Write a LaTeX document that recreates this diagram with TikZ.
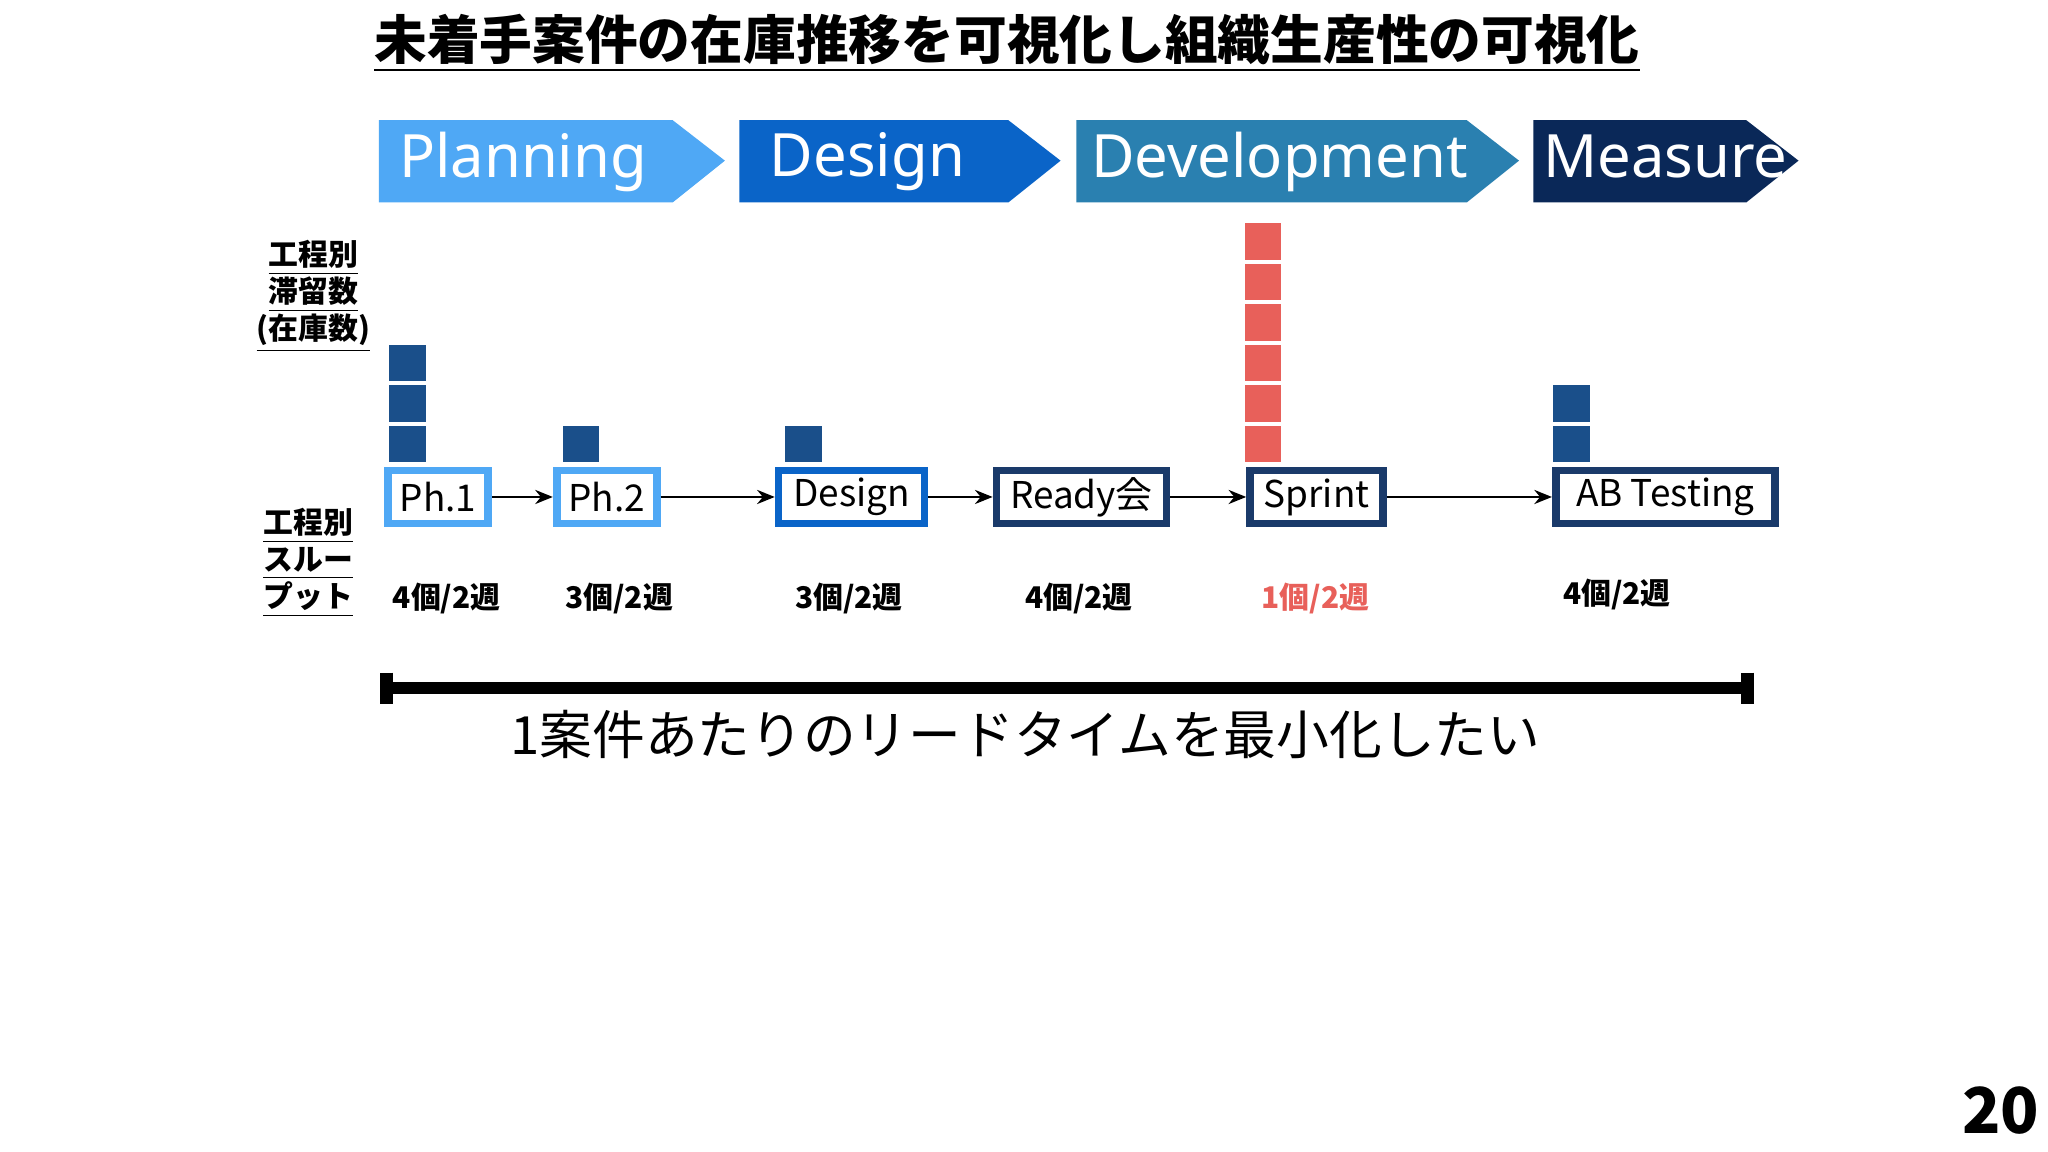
\documentclass[tikz,border=0pt]{standalone}
\usepackage{fontspec}
\setmainfont{Noto Sans CJK JP}
\newfontfamily\latinf{Noto Sans}
\usetikzlibrary{arrows.meta}
\definecolor{cA}{HTML}{4FA8F5}
\definecolor{cB}{HTML}{0A64C8}
\definecolor{cC}{HTML}{2A80B0}
\definecolor{cD}{HTML}{0A2858}
\definecolor{sq}{HTML}{1A4F8A}
\definecolor{rd}{HTML}{E8605A}
\definecolor{nv}{HTML}{1A3A6A}
\tikzset{
 pbox/.style={draw,line width=2.2pt,fill=white,inner sep=0pt,minimum height=0.53cm,font=\fontsize{10.5}{12}\selectfont,text=black},
 blk/.style={fill=#1,minimum size=0.365cm,inner sep=0pt},
 tp/.style={font=\fontsize{8.5}{10}\selectfont\bfseries},
 lab/.style={font=\fontsize{8.5}{10.5}\selectfont\bfseries,align=center},
 conn/.style={-{Stealth[length=5pt,width=4pt]},line width=0.8pt},
 chev/.style={font=\latinf\fontsize{17}{20}\selectfont,text=white,anchor=west}
}
\begin{document}
\begin{tikzpicture}[x=0.01306cm,y=-0.01306cm]
\useasboundingbox[fill=white] (0,0) rectangle (1568,882);
\node (title) at (771,33) {\fontsize{15}{18}\selectfont\bfseries\underline{未着手案件の在庫推移を可視化し組織生産性の可視化}};
% chevrons
\fill[cA] (290,92) -- (515,92) -- (555,123) -- (515,155) -- (290,155) -- cycle;
\fill[cB] (566,92) -- (772,92) -- (812,123) -- (772,155) -- (566,155) -- cycle;
\fill[cC] (824,92) -- (1123,92) -- (1163,123) -- (1123,155) -- (824,155) -- cycle;
\fill[cD] (1174,92) -- (1337,92) -- (1377,123) -- (1337,155) -- (1174,155) -- cycle;
\node[chev] (plan) at (296,124) {Planning};
\node[chev] (des) at (580,124) {Design};
\node[chev] (dev) at (826,124) {Development};
\node[chev] (mea) at (1172,120) {Measure};
% left labels
\node[lab] (l1) at (240,227) {\underline{工程別}\\\underline{滞留数}\\\underline{(在庫数)}};
\node[lab] (l2) at (236,431) {\underline{工程別}\\\underline{スルー}\\\underline{プット}};
% boxes
\node[pbox,draw=cA,minimum width=1.0cm] (p1) at (335.5,380.5) {Ph.1};
\node[pbox,draw=cA,minimum width=1.0cm] (p2) at (464.5,380.5) {Ph.2};
\node[pbox,draw=cB,minimum width=1.46cm] (d) at (652,380.5) {Design};
\node[pbox,draw=nv,minimum width=1.70cm] (r) at (828,380.5) {Ready会};
\node[pbox,draw=nv,minimum width=1.33cm] (s) at (1008,380.5) {Sprint};
\node[pbox,draw=nv,minimum width=2.19cm] (ab) at (1275,380.5) {AB Testing};
\draw[conn] (p1) -- (p2);
\draw[conn] (p2) -- (d);
\draw[conn] (d) -- (r);
\draw[conn] (r) -- (s);
\draw[conn] (s) -- (ab);
% stock squares
\foreach \y [count=\i] in {340,309,278} \node[blk=sq] (a\i) at (312,\y) {};
\node[blk=sq] (b1) at (445,340) {};
\node[blk=sq] (c1) at (615,340) {};
\foreach \y [count=\i] in {340,309,278,247,216,185} \node[blk=rd] (e\i) at (967,\y) {};
\foreach \y [count=\i] in {340,309} \node[blk=sq] (f\i) at (1203,\y) {};
% throughput
\node[tp] (t1) at (342,458) {4個/2週};
\node[tp] (t2) at (474,458) {3個/2週};
\node[tp] (t3) at (650,458) {3個/2週};
\node[tp] (t4) at (826,458) {4個/2週};
\node[tp,text=rd] (t5) at (1007,458) {1個/2週};
\node[tp] (t6) at (1238,455) {4個/2週};
% lead time bar
\coordinate (la) at (296,527);
\coordinate (lb) at (1338,527);
\draw[line width=3.5pt] (la) -- (lb);
\draw[line width=3.5pt] (296,515) -- (296,539);
\draw[line width=3.5pt] (1338,515) -- (1338,539);
\node (lead) at (785,562) {\fontsize{15}{17}\selectfont 1案件あたりのリードタイムを最小化したい};
\node (pg) at (1532,850) {\fontsize{18}{20}\selectfont\bfseries 20};
\end{tikzpicture}
\end{document}
